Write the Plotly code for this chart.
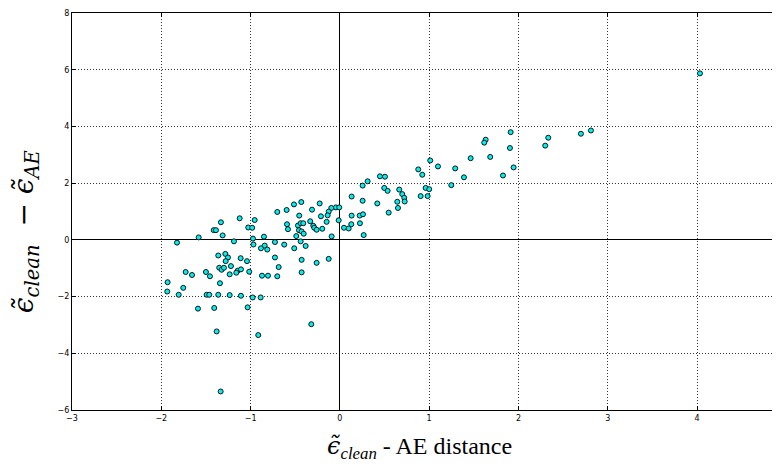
import plotly.graph_objects as go

x_vals = [-1.122, -1.332, -1.026, -1.413, -1.388, -1.313, -1.581, -1.186, -1.824, -1.362,
          -1.283, -1.253, -1.279, -1.111, -1.040, -1.220, -1.351, -1.324, -1.298, -1.145,
          -1.160, -1.108, -1.234, -1.015, -1.727, -1.656, -1.500, -1.455, -1.343, -1.929,
          -1.754, -1.933, -1.805, -1.492, -1.463, -1.362, -1.234, -1.108, -1.589, -1.407,
          -1.033, -0.977, -0.887, -1.380, -0.914, -1.335, -0.320, -0.982, -0.954, -0.973,
          -0.968, -0.432, -0.514, -0.226, -0.596, -0.701, -0.312, -0.044, -0.007, -0.096,
          -0.125, -0.137, -0.455, -0.212, -0.332, -0.148, -0.013, -0.592, -0.581, -0.469,
          -0.439, -0.410, -0.298, -0.287, -0.260, -0.197, -0.458, -0.428, -0.405, 0.046,
          -0.488, -0.092, -0.850, -0.439, -0.727, -0.623, -0.842, -0.383, -0.884, -0.813,
          -0.511, -0.727, -0.428, -0.125, -0.260, -0.685, -0.428, -0.872, -0.805, -0.701,
          1.012, 1.099, 0.878, 0.923, 0.311, 0.449, 0.505, 0.255, 0.497, 0.535,
          0.665, 0.961, 1.001, 0.699, 0.721, 0.726, 0.132, 0.905, 0.983, 0.643,
          0.255, 0.419, 0.651, 0.547, 0.132, 0.222, 0.259, 0.225, 0.128, 0.099,
          0.267, 1.633, 1.617, 1.913, 2.334, 2.300, 1.905, 1.465, 1.684, 1.292,
          1.946, 1.390, 1.827, 1.248, 2.700, 2.812, 4.033]

y_vals = [0.761, 0.621, 0.436, 0.342, 0.342, 0.157, 0.087, -0.052, -0.098, -0.551,
          -0.496, -0.621, -0.750, -0.646, -0.750, -0.925, -0.984, -1.054, -0.984, -1.089,
          -1.159, -1.040, -1.215, -1.124, -1.134, -1.239, -1.134, -1.284, -1.529, -1.494,
          -1.693, -1.822, -1.937, -1.937, -1.937, -1.937, -1.948, -1.972, -2.426, -2.401,
          -2.380, -2.031, -2.031, -3.229, -3.358, -5.347, -2.974, 0.426, 0.698, 0.045,
          -0.164, 1.333, 1.250, 1.284, 1.054, 0.984, 1.065, 1.145, 1.145, 1.124,
          0.995, 0.866, 0.855, 0.831, 0.656, 0.635, 0.691, 0.551, 0.377, 0.506,
          0.586, 0.586, 0.496, 0.426, 0.356, 0.391, 0.342, 0.297, 0.216, 0.426,
          0.133, 0.122, 0.112, -0.052, -0.077, -0.168, -0.202, -0.216, -0.297, -0.342,
          -0.297, -0.621, -0.705, -0.670, -0.810, -0.960, -1.145, -1.264, -1.264, -1.284,
          2.799, 2.590, 2.485, 2.297, 2.066, 2.241, 2.227, 1.913, 1.832, 1.728,
          1.773, 1.832, 1.787, 1.613, 1.483, 1.354, 1.529, 1.543, 1.543, 1.344,
          1.379, 1.284, 1.124, 0.960, 0.855, 0.855, 0.901, 0.586, 0.551, 0.401,
          0.168, 3.532, 3.428, 3.798, 3.602, 3.323, 3.239, 2.880, 2.925, 2.520,
          2.555, 2.206, 2.269, 1.930, 3.742, 3.857, 5.871]

x_ticks = [-3, -2, -1, 0, 1, 2, 3, 4]
y_ticks = [-6, -4, -2, 0, 2, 4, 6, 8]

EPS = "<span style='font-family:DejaVu Serif'><i>ϵ̃</i></span>"
x_title = EPS + "<i><sub>clean</sub></i> - AE distance"
y_title = EPS + "<i><sub>clean</sub></i>  − " + EPS + "<i><sub>AE</sub></i>"

fig = go.Figure()
fig.add_trace(go.Scatter(
    x=x_vals, y=y_vals, mode="markers",
    marker=dict(size=5, color="#00f0f0", line=dict(color="black", width=0.9)),
    showlegend=False, cliponaxis=False,
))

axis_common = dict(
    showgrid=True, gridcolor="#333333", griddash="1px,2px", gridwidth=1,
    zeroline=True, zerolinecolor="black", zerolinewidth=1,
    showline=True, linecolor="black", linewidth=1,
    ticks="inside", ticklen=4, tickcolor="black",
    tickfont=dict(family="DejaVu Sans", size=8, color="black"),
    automargin=False,
)

fig.update_xaxes(range=[-3, 4.84], tickvals=x_ticks, mirror="ticks", **axis_common)
fig.update_yaxes(range=[-6, 8], tickvals=y_ticks, **axis_common)

fig.add_annotation(
    text=x_title, xref="paper", yref="paper", x=0.497, y=-0.095,
    xanchor="center", yanchor="middle", showarrow=False,
    font=dict(family="Liberation Serif", size=24, color="black"),
)
fig.add_annotation(
    text=y_title, xref="paper", yref="paper", x=-0.067, y=0.448,
    xanchor="center", yanchor="middle", showarrow=False, textangle=-90,
    font=dict(family="DejaVu Serif", size=28, color="black"),
)

# the page body adds an 8px margin on every side; size the figure to fit the window
fig.update_layout(
    width=764, height=454,
    margin=dict(l=64, r=0, t=5, b=52),
    paper_bgcolor="white", plot_bgcolor="white",
)

fig.write_html("out.html")
